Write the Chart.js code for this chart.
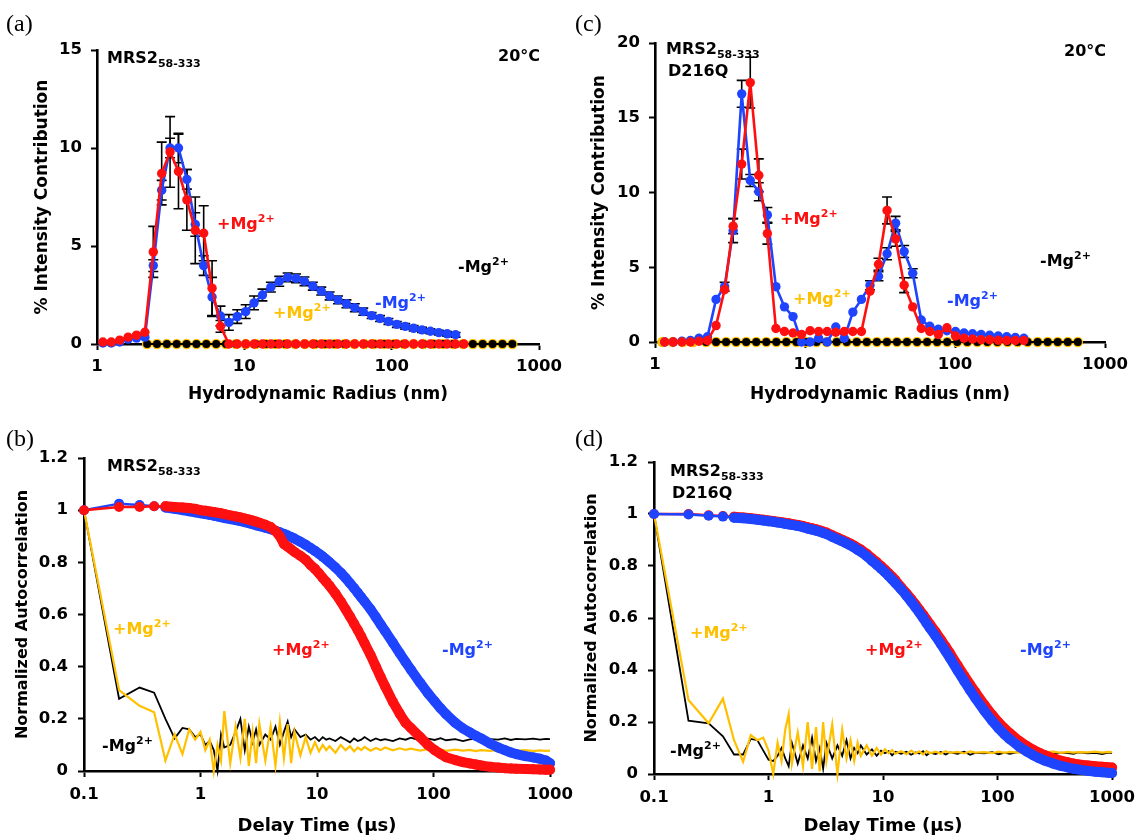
<!DOCTYPE html>
<html>
<head>
<meta charset="utf-8">
<script src="https://cdn.jsdelivr.net/npm/chart.js@4.4.1/dist/chart.umd.min.js"></script>
<style>
html,body{margin:0;padding:0;background:#fff;}
body{width:1143px;height:836px;position:relative;overflow:hidden;font-family:"DejaVu Sans",sans-serif;}
canvas{position:absolute;}
.t{position:absolute;font-weight:bold;font-size:16px;line-height:1;white-space:nowrap;color:#000;}
.t .sp{font-size:11px;position:relative;top:-7px;}
.t .sb{font-size:11px;position:relative;top:4px;}
.pl{position:absolute;font-family:"Liberation Serif","Times New Roman",serif;font-size:24px;line-height:1;color:#000;}
.r{color:#ff1010;} .b{color:#1f44ff;} .y{color:#ffc000;}
</style>
</head>
<body>
<canvas id="ca" width="570" height="418" style="left:0;top:0"></canvas>
<canvas id="cc" width="573" height="418" style="left:570px;top:0"></canvas>
<canvas id="cb" width="600" height="440" style="left:0;top:418px"></canvas>
<canvas id="cd" width="573" height="440" style="left:570px;top:418px"></canvas>

<div class="pl" style="left:6px;top:11px">(a)</div>
<div class="pl" style="left:575px;top:11px">(c)</div>
<div class="pl" style="left:6px;top:426px">(b)</div>
<div class="pl" style="left:575px;top:426px">(d)</div>

<div class="t" style="left:107px;top:50px">MRS2<span class="sb">58-333</span></div>
<div class="t" style="left:498px;top:48px">20°C</div>
<div class="t r" style="left:217px;top:216px">+Mg<span class="sp">2+</span></div>
<div class="t y" style="left:273px;top:305px">+Mg<span class="sp">2+</span></div>
<div class="t b" style="left:375px;top:295px">-Mg<span class="sp">2+</span></div>
<div class="t" style="left:458px;top:259px">-Mg<span class="sp">2+</span></div>

<div class="t" style="left:666px;top:41px">MRS2<span class="sb">58-333</span></div>
<div class="t" style="left:668px;top:63px">D216Q</div>
<div class="t" style="left:1064px;top:43px">20°C</div>
<div class="t r" style="left:780px;top:211px">+Mg<span class="sp">2+</span></div>
<div class="t y" style="left:793px;top:291px">+Mg<span class="sp">2+</span></div>
<div class="t b" style="left:947px;top:293px">-Mg<span class="sp">2+</span></div>
<div class="t" style="left:1040px;top:253px">-Mg<span class="sp">2+</span></div>

<div class="t" style="left:107px;top:458px">MRS2<span class="sb">58-333</span></div>
<div class="t y" style="left:113px;top:621px">+Mg<span class="sp">2+</span></div>
<div class="t" style="left:102px;top:738px">-Mg<span class="sp">2+</span></div>
<div class="t r" style="left:272px;top:642px">+Mg<span class="sp">2+</span></div>
<div class="t b" style="left:442px;top:642px">-Mg<span class="sp">2+</span></div>

<div class="t" style="left:670px;top:463px">MRS2<span class="sb">58-333</span></div>
<div class="t" style="left:672px;top:485px">D216Q</div>
<div class="t y" style="left:690px;top:625px">+Mg<span class="sp">2+</span></div>
<div class="t" style="left:670px;top:743px">-Mg<span class="sp">2+</span></div>
<div class="t r" style="left:865px;top:642px">+Mg<span class="sp">2+</span></div>
<div class="t b" style="left:1020px;top:642px">-Mg<span class="sp">2+</span></div>

<script>
// ---------- DATA ----------
// Hydrodynamic radius bins (nm)
const sizeBinsA = [1.096,1.250,1.426,1.626,1.854,2.113,2.410,2.748,3.133,3.573,4.074,4.645,5.297,6.039,6.887,7.852,8.954,10.21,11.64,13.27,15.14,17.26,19.68,22.44,25.59,29.17,33.27,37.93,43.25,49.32,56.23,64.12,73.11,83.37,95.06,108.4,123.6,140.9,160.7,183.2,208.9,238.2,271.6,309.7];
const sizeBinsC = [1.161,1.324,1.510,1.722,1.964,2.238,2.553,2.911,3.319,3.785,4.316,4.920,5.611,6.397,7.295,8.318,9.485,10.82,12.33,14.06,16.04,18.28,20.85,23.77,27.11,30.90,35.24,40.18,45.81,52.25,59.57,67.92,77.45,88.32,100.7,114.8,130.9,149.3,170.2,194.1,221.3,252.3,287.7];
const baseBins = [2.188,2.553,2.979,3.475,4.055,4.732,5.521,6.442,7.516,8.770,10.23,11.94,13.93,16.26,18.97,22.13,25.82,30.13,35.16,41.02,47.86,55.85,65.16,76.03,88.72,103.5,120.8,140.9,164.4,191.9,223.9,261.2,304.8,355.6,414.9,484.2,564.9,659.2];
const baseBinsYellowC = [1.12,1.31,1.53,1.79,2.188,2.553,2.979,3.475,4.055,4.732,5.521,6.442,7.516,8.770,10.23,11.94,13.93,16.26,18.97,22.13,25.82,30.13,35.16,41.02,47.86,55.85,65.16,76.03,88.72,103.5,120.8,140.9,164.4,191.9,223.9,261.2,304.8,355.6,414.9,484.2,564.9,659.2];

// Panel (a) % intensity
const aRedPlus   = [0.1,0.1,0.2,0.35,0.45,0.6,4.7,8.7,9.8,8.8,7.35,5.8,5.65,2.85,0.9,0,0,0,0,0,0,0,0,0,0,0,0,0,0,0,0,0,0,0,0,0,0,0,0,0,0,0,0,0];
const aRedErr    = [0,0,0,0,0,0,1.3,1.6,1.8,1.9,1.55,1.7,1.4,1.4,0.3,0,0,0,0,0,0,0,0,0,0,0,0,0,0,0,0,0,0,0,0,0,0,0,0,0,0,0,0,0];
const aBlueMinus = [0.05,0.05,0.1,0.25,0.3,0.35,4.0,7.85,10.0,10.0,8.4,6.1,4.0,2.4,1.43,1.1,1.4,1.65,2.1,2.5,2.9,3.2,3.4,3.35,3.2,2.95,2.7,2.45,2.25,2.05,1.85,1.65,1.45,1.3,1.15,1.0,0.9,0.8,0.72,0.65,0.58,0.52,0.47];
const aBlueErr   = [0,0,0,0,0,0,0.3,0.5,0.5,0.75,0.5,0.6,0.5,1.0,0.5,0.4,0.35,0.35,0.35,0.3,0.25,0.25,0.22,0.22,0.22,0.2,0.2,0.2,0.2,0.2,0.2,0.18,0.15,0.15,0.15,0.15,0.14,0.14,0.13,0.13,0.12,0.12,0.12];
const aBlackMinus = [0,0,0,0,0,0,0,0,0,0,0,0,0,0,0,0,0,0,0,0,0,0,0,0,0,0,0,0,0,0,0,0,0,0,0,0,0,0];
const aYellowPlus = [0,0,0,0,0,0,0,0,0,0,0,0,0,0,0,0,0,0,0,0,0,0,0,0,0,0,0,0,0,0,0,0,0,0,0,0,0,0];

// Panel (c) % intensity (D216Q)
const cRedPlus   = [0,0,0,0,0.05,0.1,1.1,3.5,7.75,11.9,17.35,11.15,7.25,0.9,0.7,0.6,0.5,0.75,0.7,0.7,0.65,0.7,0.7,0.7,3.4,5.2,8.8,6.9,3.8,2.35,0.9,0.7,0.5,0.95,0.4,0.25,0.2,0.15,0.15,0.12,0.1,0.1,0.1];
const cRedErr    = [0,0,0,0,0,0,0,0,0.5,1.0,1.7,1.1,0.7,0,0,0,0,0,0,0,0,0,0,0,0,0.4,0.9,0.5,0.5,0,0,0,0,0,0,0,0,0,0,0,0,0,0];
const cBlueMinus = [0,0,0.05,0.1,0.25,0.35,2.85,3.7,7.45,16.6,10.8,10.05,8.5,3.7,2.35,1.7,0,0,0.25,0,1.0,0.25,2.0,2.85,3.8,4.4,5.9,7.95,6.05,4.6,1.47,1.05,0.85,0.75,0.7,0.6,0.55,0.5,0.45,0.4,0.35,0.3,0.25];
const cBlueErr   = [0,0,0,0,0,0,0,0.3,0.8,0.9,0.4,0.6,0.5,0,0,0,0,0,0,0,0,0,0,0,0.3,0.3,0.4,0.45,0.4,0.3,0,0,0,0,0,0,0,0,0,0,0,0,0];
const cBlackMinus = [0,0,0,0,0,0,0,0,0,0,0,0,0,0,0,0,0,0,0,0,0,0,0,0,0,0,0,0,0,0,0,0,0,0,0,0,0,0];
const cYellowPlus = [0,0,0,0,0,0,0,0,0,0,0,0,0,0,0,0,0,0,0,0,0,0,0,0,0,0,0,0,0,0,0,0,0,0,0,0,0,0,0,0,0,0];

// Correlator delay times (µs)
const delayTimes = [0.1,0.2,0.3,0.4,0.5,0.6,0.7,0.8,0.9,1.0,1.1,1.2,1.3,1.4,1.5,1.6,
  1.8,2.0,2.2,2.4,2.6,2.8,3.0,3.2,
  3.6,4.0,4.4,4.8,5.2,5.6,6.0,6.4,
  7.2,8.0,8.8,9.6,10.4,11.2,12.0,12.8,
  14.4,16.0,17.6,19.2,20.8,22.4,24.0,25.6,
  28.8,32.0,35.2,38.4,44.8,51.2,
  57.6,64.0,76.8,89.6,102.4,115.2,128,
  153.6,179.2,204.8,230.4,256,
  307.2,358.4,409.6,460.8,512,
  614.4,716.8,819.2,921.6,1000];

// Panel (b) normalized autocorrelation
const bBlueMinus = [1.0,1.025,1.02,1.015,1.01,1.005,1.0,0.996,0.992,0.988,0.985,0.982,0.979,0.976,0.973,0.97,
  0.966,0.962,0.958,0.954,0.95,0.946,0.942,0.939,
  0.933,0.927,0.921,0.915,0.909,0.903,0.897,0.891,
  0.879,0.867,0.855,0.844,0.833,0.822,0.811,0.8,
  0.78,0.76,0.74,0.72,0.701,0.683,0.666,0.65,
  0.62,0.59,0.562,0.537,0.492,0.452,
  0.418,0.388,0.338,0.298,0.267,0.24,0.218,
  0.185,0.163,0.148,0.135,0.125,
  0.105,0.09,0.08,0.071,0.065,
  0.057,0.052,0.047,0.04,0.03];
const bRedPlus = [1.0,1.012,1.012,1.015,1.015,1.012,1.01,1.008,1.005,1.0,0.998,0.995,0.993,0.99,0.988,0.985,
  0.98,0.976,0.972,0.968,0.964,0.96,0.956,0.952,
  0.944,0.935,0.92,0.9,0.87,0.86,0.85,0.84,
  0.825,0.81,0.79,0.775,0.758,0.74,0.725,0.71,
  0.68,0.65,0.62,0.592,0.565,0.54,0.515,0.49,
  0.445,0.4,0.36,0.325,0.265,0.22,
  0.185,0.165,0.13,0.1,0.08,0.065,0.053,
  0.042,0.034,0.029,0.025,0.021,
  0.016,0.013,0.011,0.01,0.009,
  0.008,0.007,0.006,0.005,0.005];
const bBlackMinus = [1.0,0.277,0.32,0.3,0.2,0.125,0.165,0.16,0.13,0.14,0.1,0.115,0.08,0.0,0.14,0.09,
  0.1,0.15,0.2,0.08,0.17,0.11,0.16,0.1,
  0.14,0.12,0.17,0.1,0.15,0.19,0.13,0.16,
  0.13,0.14,0.12,0.13,0.115,0.13,0.12,0.125,
  0.115,0.13,0.12,0.11,0.125,0.115,0.12,0.13,
  0.115,0.125,0.118,0.122,0.115,0.125,
  0.12,0.128,0.117,0.124,0.119,0.126,0.118,
  0.122,0.115,0.121,0.124,0.117,
  0.122,0.12,0.125,0.119,0.123,
  0.121,0.124,0.12,0.123,0.122];
const bYellowPlus = [1.0,0.31,0.25,0.225,0.04,0.14,0.065,0.16,0.12,0.15,0.08,0.12,0.0,0.1,0.04,0.23,
  0.03,0.17,0.05,0.2,0.02,0.15,0.03,0.18,
  0.04,0.17,0.02,0.19,0.05,0.18,0.03,0.15,
  0.06,0.13,0.07,0.11,0.075,0.1,0.08,0.095,
  0.07,0.1,0.08,0.095,0.075,0.09,0.08,0.092,
  0.078,0.088,0.08,0.09,0.079,0.087,
  0.081,0.086,0.078,0.084,0.079,0.083,0.077,
  0.082,0.078,0.081,0.076,0.08,
  0.077,0.081,0.076,0.079,0.077,
  0.08,0.076,0.079,0.077,0.078];

// Panel (d) normalized autocorrelation (D216Q)
const dBlueMinus = [1.0,0.998,0.993,0.99,0.986,0.984,0.981,0.978,0.975,0.972,0.97,0.967,0.965,0.962,0.96,0.958,
  0.954,0.949,0.944,0.94,0.936,0.932,0.927,0.923,
  0.912,0.903,0.895,0.887,0.879,0.871,0.862,0.855,
  0.838,0.82,0.805,0.79,0.776,0.762,0.748,0.735,
  0.71,0.686,0.663,0.641,0.62,0.6,0.58,0.562,
  0.53,0.5,0.472,0.446,0.398,0.357,
  0.322,0.292,0.243,0.205,0.175,0.152,0.134,
  0.106,0.087,0.072,0.061,0.052,
  0.04,0.031,0.025,0.02,0.017,
  0.012,0.009,0.007,0.005,0.004];
const dRedPlus = [1.0,1.0,0.995,0.992,0.989,0.987,0.984,0.981,0.978,0.975,0.973,0.97,0.968,0.966,0.964,0.962,
  0.958,0.954,0.949,0.945,0.941,0.937,0.933,0.929,
  0.918,0.909,0.901,0.893,0.886,0.878,0.87,0.863,
  0.847,0.83,0.815,0.8,0.786,0.772,0.759,0.746,
  0.718,0.695,0.673,0.652,0.632,0.613,0.594,0.577,
  0.546,0.517,0.49,0.465,0.418,0.378,
  0.344,0.315,0.266,0.228,0.198,0.175,0.157,
  0.128,0.108,0.093,0.082,0.073,
  0.06,0.051,0.045,0.04,0.037,
  0.033,0.03,0.028,0.026,0.025];
const dBlackMinus = [1.0,0.205,0.195,0.145,0.075,0.075,0.135,0.13,0.09,0.055,0.05,0.07,0.1,0.06,0.03,0.12,
  0.04,0.11,0.06,0.14,0.05,0.1,0.02,0.12,
  0.06,0.11,0.07,0.13,0.06,0.1,0.08,0.11,
  0.075,0.095,0.07,0.09,0.08,0.088,0.072,0.085,
  0.078,0.086,0.074,0.083,0.079,0.088,0.072,0.082,
  0.077,0.085,0.075,0.083,0.078,0.086,
  0.074,0.081,0.079,0.084,0.076,0.082,0.078,
  0.085,0.077,0.081,0.079,0.083,
  0.076,0.082,0.08,0.078,0.083,
  0.079,0.081,0.077,0.082,0.08];
const dYellowPlus = [1.0,0.285,0.195,0.29,0.13,0.047,0.15,0.13,0.14,0.09,0.0,0.12,0.05,0.17,0.23,0.04,
  0.16,0.03,0.2,0.02,0.18,0.01,0.2,0.05,
  0.19,0.0,0.17,0.06,0.13,0.05,0.12,0.07,
  0.11,0.07,0.1,0.075,0.095,0.08,0.092,0.078,
  0.088,0.076,0.09,0.079,0.087,0.075,0.089,0.08,
  0.086,0.078,0.088,0.081,0.085,0.079,
  0.087,0.082,0.084,0.08,0.086,0.081,0.085,
  0.082,0.087,0.08,0.084,0.083,
  0.086,0.081,0.085,0.082,0.084,
  0.083,0.086,0.082,0.085,0.084];

// Axis ticks / labels
const sizeTicks = [1,10,100,1000];
const sizeTickLabels = ['1','10','100','1000'];
const timeTicks = [0.1,1,10,100,1000];
const timeTickLabels = ['0.1','1','10','100','1000'];
const yTicksA = [0,5,10,15];  const yTickLabelsA = ['0','5','10','15'];
const yTicksC = [0,5,10,15,20]; const yTickLabelsC = ['0','5','10','15','20'];
const yTicksACF = [0,0.2,0.4,0.6,0.8,1.0,1.2]; const yTickLabelsACF = ['0','0.2','0.4','0.6','0.8','1','1.2'];

// ---------- RENDERING ----------
const RED = '#ff1010', BLUE = '#1f44ff', YEL = '#ffc000', BLK = '#000000';
const FONT = '"DejaVu Sans", sans-serif';
Chart.defaults.font.family = FONT;
Chart.defaults.font.weight = 'bold';
Chart.defaults.color = '#000';

const pts = (xs, ys) => ys.map((v, i) => ({x: xs[i], y: v}));

const errorBars = {
  id: 'errorBars',
  beforeDatasetsDraw(chart) {
    const ctx = chart.ctx, xs = chart.scales.x, ys = chart.scales.y;
    ctx.save();
    ctx.strokeStyle = '#000'; ctx.lineWidth = 1.6;
    chart.data.datasets.forEach(ds => {
      if (!ds.errs) return;
      ds.data.forEach((p, i) => {
        const e = ds.errs[i]; if (!e) return;
        const x = xs.getPixelForValue(p.x);
        const yt = ys.getPixelForValue(p.y + e);
        const yb = ys.getPixelForValue(Math.max(p.y - e, 0));
        ctx.beginPath();
        ctx.moveTo(x, yt); ctx.lineTo(x, yb);
        ctx.moveTo(x - 5, yt); ctx.lineTo(x + 5, yt);
        ctx.moveTo(x - 5, yb); ctx.lineTo(x + 5, yb);
        ctx.stroke();
      });
    });
    ctx.restore();
  }
};

const gridOpts = {display: true, drawOnChartArea: false, drawTicks: true, tickLength: 6, tickWidth: 2, tickColor: '#000'};
const borderOpts = {display: true, color: '#000', width: 2.6};

function axisX(o) {
  return {
    type: 'logarithmic', min: o.min, max: o.max,
    afterBuildTicks: s => { s.ticks = o.ticks.map(v => ({value: v})); },
    afterFit: s => { s.height = o.h; },
    ticks: {autoSkip: false, maxRotation: 0, minRotation: 0, padding: o.tp, color: '#000',
            font: {size: 16.5, weight: 'bold', family: FONT},
            callback: (v, i) => o.labels[i]},
    grid: gridOpts, border: borderOpts,
    title: {display: true, text: o.title, color: '#000', font: {size: o.ts, weight: 'bold', family: FONT},
            padding: {top: 0, bottom: o.tpb}}
  };
}
function axisY(o) {
  return {
    type: 'linear', min: o.min, max: o.max,
    afterBuildTicks: s => { s.ticks = o.ticks.map(v => ({value: v})); },
    afterFit: s => { s.width = o.w; },
    ticks: {padding: o.tp, color: '#000', font: {size: 16.5, weight: 'bold', family: FONT},
            callback: (v, i) => o.labels[i]},
    grid: gridOpts, border: borderOpts,
    title: {display: true, text: o.title, color: '#000', font: {size: o.ts, weight: 'bold', family: FONT},
            padding: {top: o.tpt, bottom: 0}}
  };
}
function baseOpts(pad, sx, sy) {
  return {
    responsive: false, devicePixelRatio: 1, animation: false, events: [],
    layout: {padding: pad},
    plugins: {legend: {display: false}, tooltip: {enabled: false}},
    scales: {x: sx, y: sy}
  };
}
function dlsSet(xs, ys, color, order, errs, r, bw) {
  return {data: pts(xs, ys), borderColor: color, backgroundColor: color, pointBackgroundColor: color,
          pointBorderColor: color, pointBorderWidth: 0, pointRadius: r, borderWidth: bw,
          tension: 0, order: order, clip: false, errs: errs};
}
function acfSet(ys, color, order) {
  return {data: pts(delayTimes, ys), borderColor: color, backgroundColor: color, pointBackgroundColor: color,
          pointBorderWidth: 0, pointRadius: 5, borderWidth: 10, borderCapStyle: 'round', borderJoinStyle: 'round',
          segment: {borderWidth: c => c.p0DataIndex < 4 ? 2.5 : 10},
          tension: 0, order: order, clip: false};
}
function noiseSet(ys, color, order, bw) {
  return {data: pts(delayTimes, ys), borderColor: color, backgroundColor: color, pointRadius: 0,
          borderWidth: bw, tension: 0, order: order, clip: false};
}

// (a)
new Chart(document.getElementById('ca'), {
  type: 'line',
  data: {datasets: [
    dlsSet(sizeBinsA, aRedPlus, RED, 0, aRedErr, 4.7, 2.6),
    dlsSet(sizeBinsA, aBlueMinus, BLUE, 1, aBlueErr, 4.7, 2.6),
    dlsSet(baseBins, aBlackMinus, BLK, 2, null, 4, 2),
    dlsSet(baseBins, aYellowPlus, YEL, 3, null, 5.2, 2)
  ]},
  options: baseOpts({left: 0, top: 50, right: 31, bottom: 0},
    axisX({min: 1, max: 1000, ticks: sizeTicks, labels: sizeTickLabels, h: 74, tp: 7,
           title: 'Hydrodynamic Radius (nm)', ts: 17, tpb: 13.5}),
    axisY({min: 0, max: 15, ticks: yTicksA, labels: yTickLabelsA, w: 97, tp: 9,
           title: '% Intensity Contribution', ts: 17, tpt: 32.8})),
  plugins: [errorBars]
});

// (c)
new Chart(document.getElementById('cc'), {
  type: 'line',
  data: {datasets: [
    dlsSet(sizeBinsC, cRedPlus, RED, 0, cRedErr, 4.7, 2.6),
    dlsSet(sizeBinsC, cBlueMinus, BLUE, 1, cBlueErr, 4.7, 2.6),
    dlsSet(baseBins, cBlackMinus, BLK, 2, null, 4, 2),
    dlsSet(baseBinsYellowC, cYellowPlus, YEL, 3, null, 5.2, 2)
  ]},
  options: baseOpts({left: 0, top: 43, right: 38, bottom: 0},
    axisX({min: 1, max: 1000, ticks: sizeTicks, labels: sizeTickLabels, h: 76, tp: 7,
           title: 'Hydrodynamic Radius (nm)', ts: 17, tpb: 12.8}),
    axisY({min: 0, max: 20, ticks: yTicksC, labels: yTickLabelsC, w: 85, tp: 9,
           title: '% Intensity Contribution', ts: 17, tpt: 19.8})),
  plugins: [errorBars]
});

// (b)
new Chart(document.getElementById('cb'), {
  type: 'line',
  data: {datasets: [
    acfSet(bRedPlus, RED, 0),
    acfSet(bBlueMinus, BLUE, 1),
    noiseSet(bYellowPlus, YEL, 2, 2.2),
    noiseSet(bBlackMinus, BLK, 3, 1.8)
  ]},
  options: baseOpts({left: 0, top: 40, right: 50, bottom: 0},
    axisX({min: 0.1, max: 1000, ticks: timeTicks, labels: timeTickLabels, h: 87, tp: 8,
           title: 'Delay Time (μs)', ts: 18, tpb: 20.5}),
    axisY({min: 0, max: 1.2, ticks: yTicksACF, labels: yTickLabelsACF, w: 84, tp: 10,
           title: 'Normalized Autocorrelation', ts: 16, tpt: 12.9}))
});

// (d)
new Chart(document.getElementById('cd'), {
  type: 'line',
  data: {datasets: [
    acfSet(dBlueMinus, BLUE, 0),
    acfSet(dRedPlus, RED, 1),
    noiseSet(dYellowPlus, YEL, 2, 2.2),
    noiseSet(dBlackMinus, BLK, 3, 1.8)
  ]},
  options: baseOpts({left: 0, top: 44, right: 26, bottom: 0},
    axisX({min: 0.1, max: 1000, ticks: timeTicks, labels: timeTickLabels, h: 84, tp: 8,
           title: 'Delay Time (μs)', ts: 18, tpb: 20.5}),
    axisY({min: 0, max: 1.2, ticks: yTicksACF, labels: yTickLabelsACF, w: 84, tp: 10,
           title: 'Normalized Autocorrelation', ts: 16, tpt: 12.4}))
});
</script>
</body>
</html>
